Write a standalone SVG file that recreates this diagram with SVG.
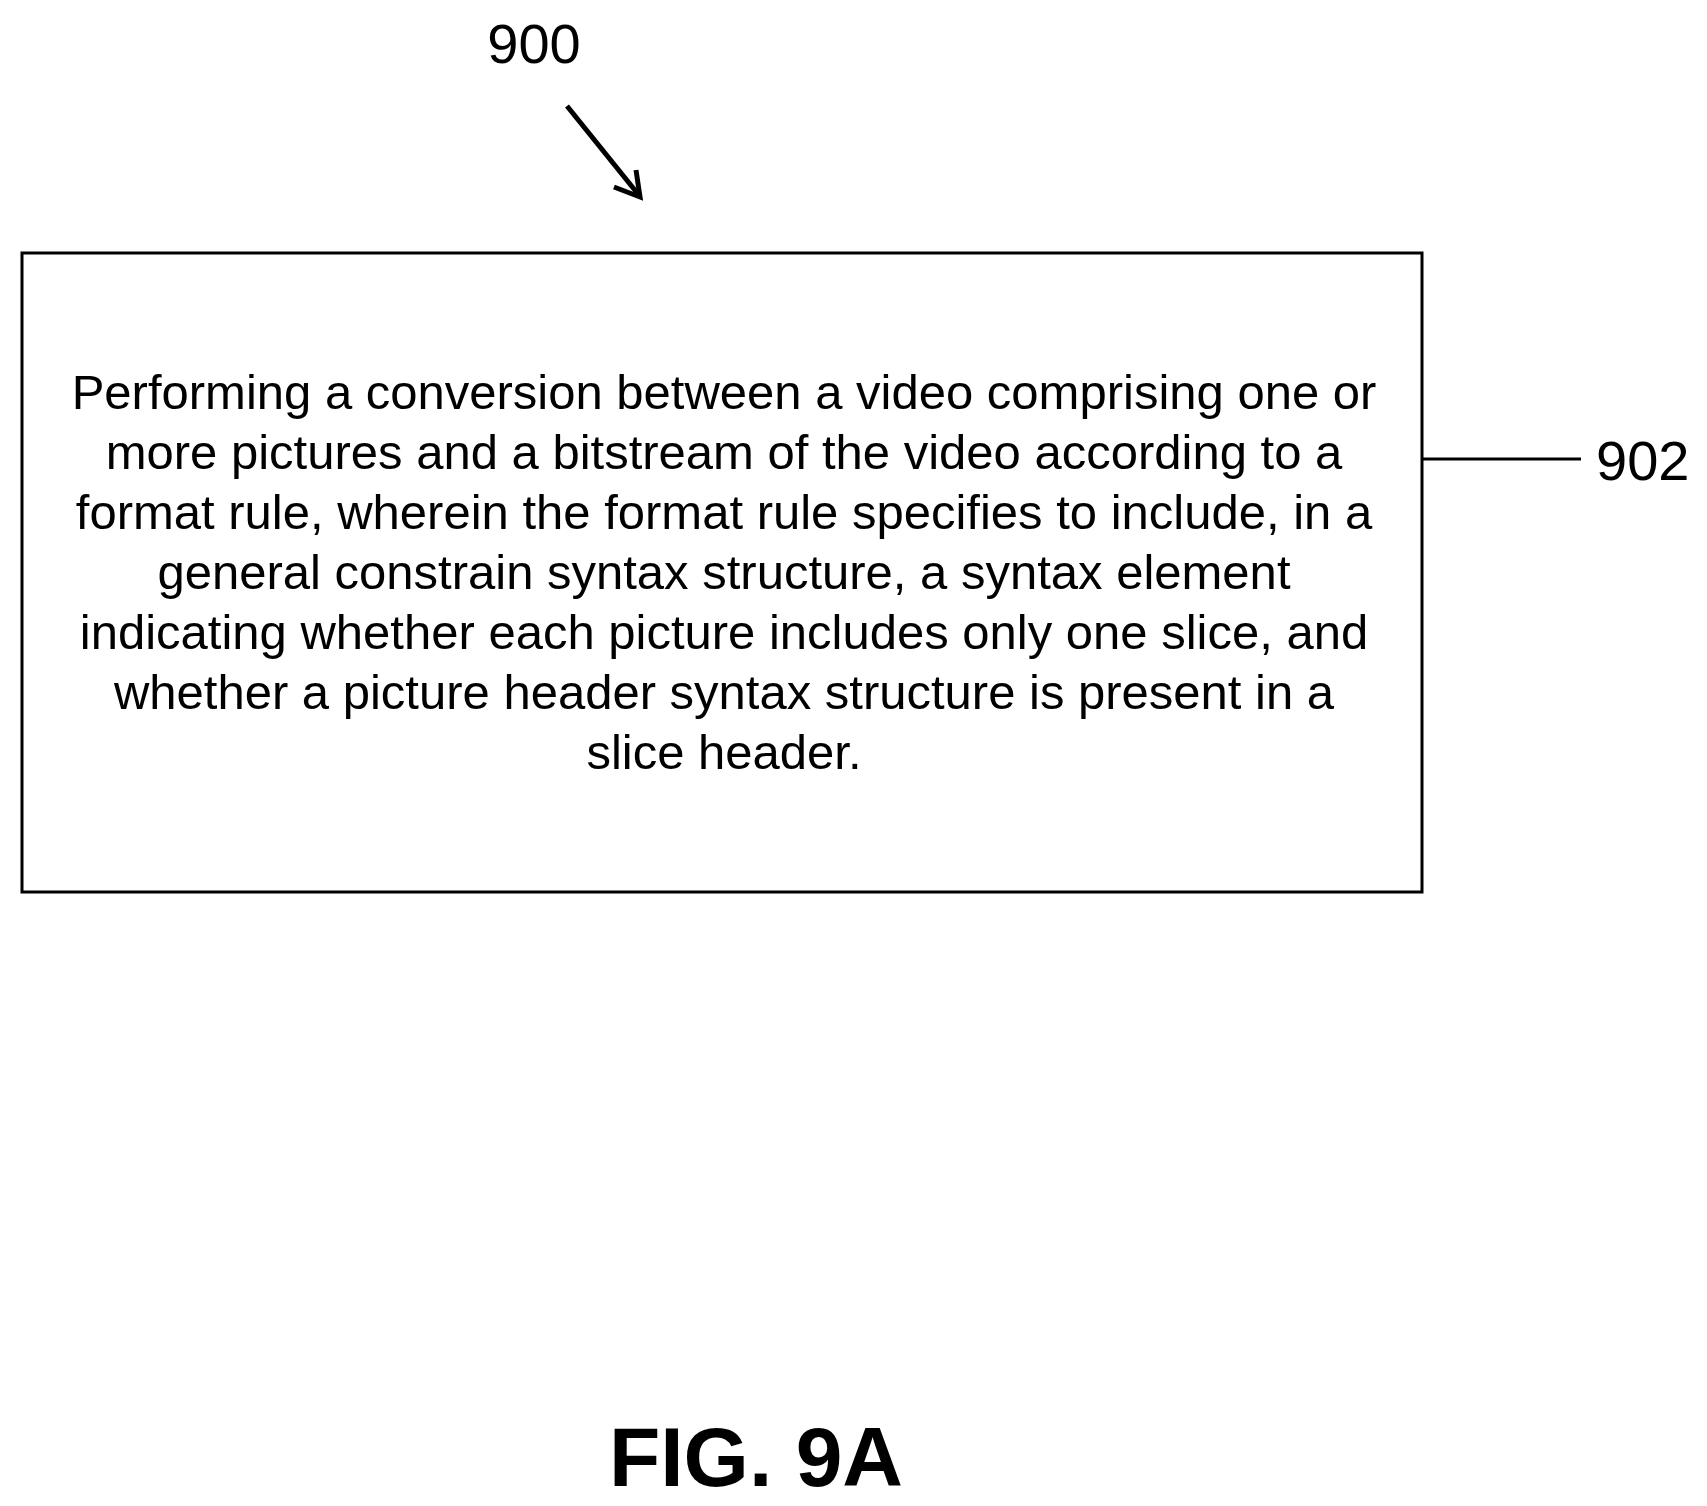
<svg xmlns="http://www.w3.org/2000/svg" width="1707" height="1506" viewBox="0 0 1707 1506">
<style>
text{font-family:"Liberation Sans",Arial,sans-serif;fill:#000}
.b{font-size:49px;text-anchor:middle}
.l{font-size:56px}
</style>
<rect width="1707" height="1506" fill="#fff"/>
<g id="n902">
<rect x="22" y="253" width="1400" height="639" fill="none" stroke="#000" stroke-width="3"/>
<text class="b" x="724" y="409">Performing a conversion between a video comprising one or</text>
<text class="b" x="724" y="469">more pictures and a bitstream of the video according to a</text>
<text class="b" x="724" y="529">format rule, wherein the format rule specifies to include, in a</text>
<text class="b" x="724" y="589">general constrain syntax structure, a syntax element</text>
<text class="b" x="724" y="649">indicating whether each picture includes only one slice, and</text>
<text class="b" x="724" y="709">whether a picture header syntax structure is present in a</text>
<text class="b" x="724" y="769">slice header.</text>
</g>
<g id="labels">
<text class="l" x="534" y="63" text-anchor="middle">900</text>
<text class="l" x="1596" y="480">902</text>
<text x="756" y="1486" text-anchor="middle" font-size="84" font-weight="bold">FIG. 9A</text>
</g>
<g id="connectors" stroke="#000" stroke-width="5" fill="none">
<line x1="567" y1="106" x2="638" y2="194"/>
<path d="M614,187 L640,197 L636,170"/>
<line x1="1422" y1="459" x2="1581" y2="459" stroke-width="3"/>
</g>
</svg>
